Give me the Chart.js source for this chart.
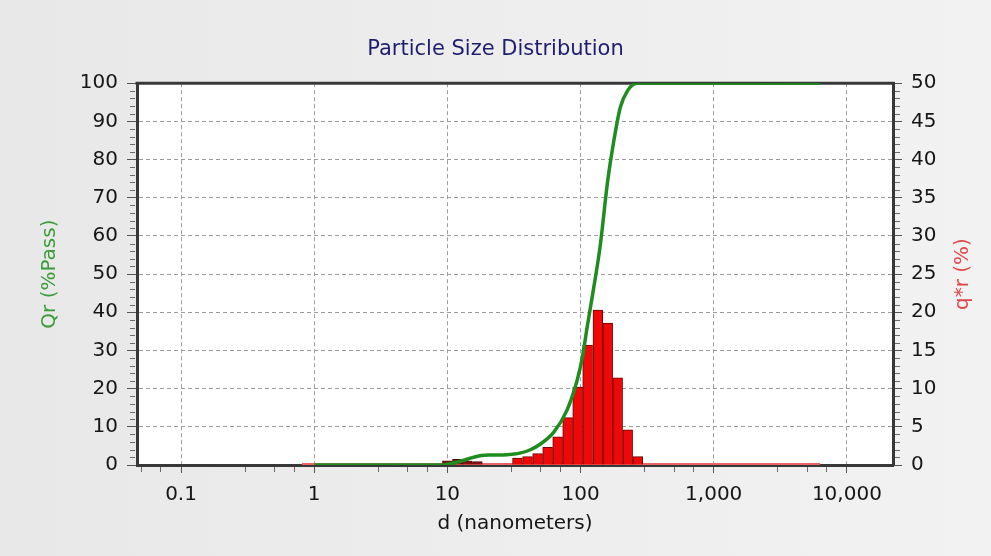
<!DOCTYPE html>
<html>
<head>
<meta charset="utf-8">
<script src="https://cdn.jsdelivr.net/npm/chart.js@4.4.1/dist/chart.umd.min.js"></script>
<style>
  html, body { margin: 0; padding: 0; background: #fff; }
</style>
</head>
<body>
<canvas id="psd" width="991" height="556"></canvas>
<script>
'use strict';

// histogram bins: centre size (nm) and q*r (%)
const binSizes = [10, 11.9, 14.1, 16.8, 20, 23.8, 28.3, 33.6, 40, 47.6, 56.6, 67.3, 80, 95.1, 113, 135, 160, 190, 226, 269];
const binPercent = [0.55, 0.75, 0.5, 0.45, 0, 0, 0, 0.9, 1.1, 1.5, 2.3, 3.7, 6.2, 10.2, 15.7, 20.3, 18.6, 11.4, 4.6, 1.1];

// cumulative passing curve Qr (%)
const qrSizes = [1, 9, 10, 12, 14, 16, 18, 21, 28, 35, 42, 50, 63, 79, 94, 103, 112, 125, 140, 160, 176, 199, 225, 265, 6300];
const qrPass = [0, 0, 0.2, 0.8, 1.5, 2.1, 2.5, 2.6, 2.7, 3.1, 4.0, 5.5, 8.6, 14.3, 22, 28, 36, 46, 57, 74.5, 84, 93.7, 98, 100, 100];

// q*r trace outside the filled bins (flat zero over the measured range)
const baseSizes = [0.81, 6300];
const baseValues = [0, 0];

const xTickValues = [0.1, 1, 10, 100, 1000, 10000];
const xTickLabels = ['0.1', '1', '10', '100', '1,000', '10,000'];
const xMinorTicks = [0.05, 0.07, 0.3, 0.5, 0.7, 3, 5, 7, 30, 50, 70, 300, 500, 700, 3000, 5000, 7000];
const xMin = 0.0467;
const xMax = 22200;

const FONT = 'DejaVu Sans';
const tickFont = { family: FONT, size: 20 };
const textColor = '#161616';
const gridColor = '#9c9c9c';
const frameColor = '#383838';

const chartDecor = {
    id: 'chartDecor',
    beforeDraw(chart) {
        const { ctx, width, height, chartArea: a } = chart;
        ctx.save();
        const g = ctx.createLinearGradient(0, 0, width, 0);
        g.addColorStop(0, '#e8e8e8');
        g.addColorStop(1, '#f2f2f2');
        ctx.fillStyle = g;
        ctx.fillRect(0, 0, width, height);
        ctx.fillStyle = '#ffffff';
        ctx.fillRect(a.left, a.top, a.right - a.left, a.bottom - a.top);
        ctx.restore();
    },
    beforeDatasetsDraw(chart) {
        // top edge of the plot frame (the axes draw the other three)
        const { ctx, chartArea: a } = chart;
        ctx.save();
        ctx.strokeStyle = frameColor;
        ctx.lineWidth = 3;
        ctx.beginPath();
        ctx.moveTo(a.left - 1.5, a.top);
        ctx.lineTo(a.right + 1.5, a.top);
        ctx.stroke();
        ctx.restore();
    },
    afterDraw(chart) {
        const { ctx, chartArea: a, scales } = chart;
        ctx.save();
        // minor tick marks
        ctx.strokeStyle = '#6a6a6a';
        ctx.lineWidth = 1;
        ctx.beginPath();
        xMinorTicks.forEach(v => {
            const px = Math.round(scales.x.getPixelForValue(v)) + 0.5;
            if (px < a.left || px > a.right) return;
            ctx.moveTo(px, a.bottom + 2);
            ctx.lineTo(px, a.bottom + 7);
        });
        for (let v = 0; v <= 100; v += 2) {
            if (v % 10 === 0) continue;
            const py = Math.round(scales.y.getPixelForValue(v)) + 0.5;
            ctx.moveTo(a.left - 7, py);
            ctx.lineTo(a.left - 2, py);
        }
        for (let v = 0; v <= 50; v += 1) {
            if (v % 5 === 0) continue;
            const py = Math.round(scales.y2.getPixelForValue(v)) + 0.5;
            ctx.moveTo(a.right + 2, py);
            ctx.lineTo(a.right + 7, py);
        }
        ctx.stroke();

        // right axis title reads bottom-to-top like the left one
        ctx.fillStyle = '#e04848';
        ctx.font = '20px "' + FONT + '"';
        ctx.textAlign = 'center';
        ctx.textBaseline = 'middle';
        ctx.translate(963, (a.top + a.bottom) / 2);
        ctx.rotate(-Math.PI / 2);
        ctx.fillText('q*r (%)', 0, 0);
        ctx.restore();
    }
};

new Chart(document.getElementById('psd'), {
    type: 'line',
    data: {
        datasets: [
            {
                type: 'line',
                label: 'Qr',
                data: qrSizes.map((x, i) => ({ x, y: qrPass[i] })),
                yAxisID: 'y',
                borderColor: '#1f8c1f',
                borderWidth: 3.5,
                pointRadius: 0,
                cubicInterpolationMode: 'monotone',
                order: 0
            },
            {
                type: 'bar',
                label: 'q*r',
                data: binSizes.map((x, i) => ({ x, y: binPercent[i] })),
                yAxisID: 'y2',
                backgroundColor: (c) => (c.raw && c.raw.x < 18 ? '#8a1010' : '#ee0808'),
                borderColor: (c) => (c.raw && c.raw.x < 18 ? '#520404' : '#6e0000'),
                borderWidth: 1,
                borderSkipped: 'start',
                barPercentage: 1,
                categoryPercentage: 1,
                order: 1
            },
            {
                type: 'line',
                label: 'q*r base',
                data: baseSizes.map((x, i) => ({ x, y: baseValues[i] })),
                yAxisID: 'y2',
                borderColor: '#e86464',
                borderWidth: 4,
                pointRadius: 0,
                order: 2
            }
        ]
    },
    options: {
        responsive: false,
        animation: false,
        events: [],
        layout: { padding: 0 },
        plugins: {
            legend: { display: false },
            tooltip: { enabled: false },
            title: {
                display: true,
                text: 'Particle Size Distribution',
                color: '#1e1e70',
                font: { family: FONT, size: 21, weight: 'normal', lineHeight: 1.2 },
                padding: { top: 37, bottom: 21 }
            }
        },
        scales: {
            x: {
                type: 'logarithmic',
                min: xMin,
                max: xMax,
                offset: false,
                afterBuildTicks: (scale) => {
                    scale.ticks = xTickValues.map(v => ({ value: v }));
                },
                afterFit: (scale) => { scale.height = 91; },
                ticks: {
                    autoSkip: false,
                    maxRotation: 0,
                    color: textColor,
                    font: tickFont,
                    padding: 10,
                    callback: (v, i) => xTickLabels[i]
                },
                grid: {
                    offset: false,
                    color: gridColor,
                    tickColor: '#555',
                    tickLength: 8,
                    tickBorderDash: []
                },
                border: { color: frameColor, width: 3, dash: [4, 3] },
                title: {
                    display: true,
                    text: 'd (nanometers)',
                    color: textColor,
                    font: { family: FONT, size: 20, lineHeight: 1.2 },
                    padding: { top: 0, bottom: 20 }
                }
            },
            y: {
                position: 'left',
                min: 0,
                max: 100,
                afterFit: (scale) => { scale.width = 137; },
                ticks: { stepSize: 10, color: textColor, font: tickFont, padding: 9 },
                grid: {
                    color: gridColor,
                    tickColor: '#555',
                    tickLength: 10,
                    tickBorderDash: []
                },
                border: { color: frameColor, width: 3, dash: [4, 3] },
                title: {
                    display: true,
                    text: 'Qr (%Pass)',
                    color: '#3c9c3c',
                    font: { family: FONT, size: 20, lineHeight: 1.2 },
                    padding: { top: 38, bottom: 0 }
                }
            },
            y2: {
                position: 'right',
                min: 0,
                max: 50,
                afterFit: (scale) => { scale.width = 98; },
                ticks: { stepSize: 5, color: textColor, font: tickFont, padding: 9 },
                grid: {
                    drawOnChartArea: false,
                    tickColor: '#555',
                    tickLength: 9,
                    tickBorderDash: []
                },
                border: { color: frameColor, width: 3 }
            }
        }
    },
    plugins: [chartDecor]
});
</script>
</body>
</html>
